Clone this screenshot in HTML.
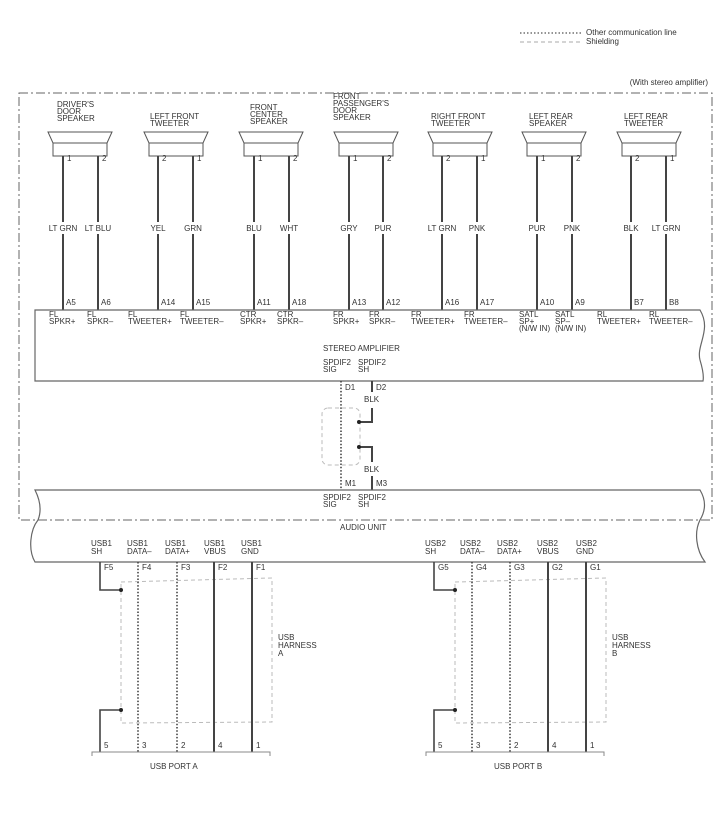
<!DOCTYPE html>
<html><head><meta charset="utf-8"><style>
html,body{margin:0;padding:0;background:#fff;}
svg{display:block;}
text{font-family:"Liberation Sans",sans-serif;font-size:8px;fill:#333;}
</style></head><body>
<svg width="726" height="822" viewBox="0 0 726 822" xmlns="http://www.w3.org/2000/svg">
<!-- legend -->
<line x1="520" y1="33" x2="582" y2="33" stroke="#555" stroke-width="1.3" stroke-dasharray="1.5,2"/>
<line x1="520" y1="42" x2="582" y2="42" stroke="#aaa" stroke-width="1" stroke-dasharray="4,3"/>
<text x="586" y="35">Other communication line</text>
<text x="586" y="44">Shielding</text>
<text x="708" y="85" text-anchor="end">(With stereo amplifier)</text>
<!-- outer dash-dot box -->
<rect x="19" y="93" width="693" height="427" fill="none" stroke="#666" stroke-width="1" stroke-dasharray="9,3,2,3"/>

<!-- speakers -->
<g id="spk" stroke="#555" stroke-width="1" fill="#fff">
</g>
<g stroke="#555" stroke-width="1" fill="#fff">
<path d="M48 132 H112 L107 143 V156 H53 V143 Z"/><line x1="53" y1="143" x2="107" y2="143"/>
<path d="M144 132 H208 L203 143 V156 H149 V143 Z"/><line x1="149" y1="143" x2="203" y2="143"/>
<path d="M239 132 H303 L298 143 V156 H244 V143 Z"/><line x1="244" y1="143" x2="298" y2="143"/>
<path d="M334 132 H398 L393 143 V156 H339 V143 Z"/><line x1="339" y1="143" x2="393" y2="143"/>
<path d="M428 132 H492 L487 143 V156 H433 V143 Z"/><line x1="433" y1="143" x2="487" y2="143"/>
<path d="M522 132 H586 L581 143 V156 H527 V143 Z"/><line x1="527" y1="143" x2="581" y2="143"/>
<path d="M617 132 H681 L676 143 V156 H622 V143 Z"/><line x1="622" y1="143" x2="676" y2="143"/>
</g>
<g text-anchor="start">
<text x="57" y="107">DRIVER'S</text><text x="57" y="114">DOOR</text><text x="57" y="121">SPEAKER</text>
<text x="150" y="119">LEFT FRONT</text><text x="150" y="126">TWEETER</text>
<text x="250" y="110">FRONT</text><text x="250" y="117">CENTER</text><text x="250" y="124">SPEAKER</text>
<text x="333" y="99">FRONT</text><text x="333" y="106">PASSENGER'S</text><text x="333" y="113">DOOR</text><text x="333" y="120">SPEAKER</text>
<text x="431" y="119">RIGHT FRONT</text><text x="431" y="126">TWEETER</text>
<text x="529" y="119">LEFT REAR</text><text x="529" y="126">SPEAKER</text>
<text x="624" y="119">LEFT REAR</text><text x="624" y="126">TWEETER</text>
</g>
<!-- speaker wires -->
<g stroke="#444" stroke-width="2">
<line x1="63" y1="156" x2="63" y2="222"/><line x1="63" y1="234" x2="63" y2="310"/>
<line x1="98" y1="156" x2="98" y2="222"/><line x1="98" y1="234" x2="98" y2="310"/>
<line x1="158" y1="156" x2="158" y2="222"/><line x1="158" y1="234" x2="158" y2="310"/>
<line x1="193" y1="156" x2="193" y2="222"/><line x1="193" y1="234" x2="193" y2="310"/>
<line x1="254" y1="156" x2="254" y2="222"/><line x1="254" y1="234" x2="254" y2="310"/>
<line x1="289" y1="156" x2="289" y2="222"/><line x1="289" y1="234" x2="289" y2="310"/>
<line x1="349" y1="156" x2="349" y2="222"/><line x1="349" y1="234" x2="349" y2="310"/>
<line x1="383" y1="156" x2="383" y2="222"/><line x1="383" y1="234" x2="383" y2="310"/>
<line x1="442" y1="156" x2="442" y2="222"/><line x1="442" y1="234" x2="442" y2="310"/>
<line x1="477" y1="156" x2="477" y2="222"/><line x1="477" y1="234" x2="477" y2="310"/>
<line x1="537" y1="156" x2="537" y2="222"/><line x1="537" y1="234" x2="537" y2="310"/>
<line x1="572" y1="156" x2="572" y2="222"/><line x1="572" y1="234" x2="572" y2="310"/>
<line x1="631" y1="156" x2="631" y2="222"/><line x1="631" y1="234" x2="631" y2="310"/>
<line x1="666" y1="156" x2="666" y2="222"/><line x1="666" y1="234" x2="666" y2="310"/>
</g>
<g>
<text x="67" y="161">1</text><text x="102" y="161">2</text>
<text x="162" y="161">2</text><text x="197" y="161">1</text>
<text x="258" y="161">1</text><text x="293" y="161">2</text>
<text x="353" y="161">1</text><text x="387" y="161">2</text>
<text x="446" y="161">2</text><text x="481" y="161">1</text>
<text x="541" y="161">1</text><text x="576" y="161">2</text>
<text x="635" y="161">2</text><text x="670" y="161">1</text>
</g>
<g text-anchor="middle">
<text x="63" y="231">LT GRN</text><text x="98" y="231">LT BLU</text>
<text x="158" y="231">YEL</text><text x="193" y="231">GRN</text>
<text x="254" y="231">BLU</text><text x="289" y="231">WHT</text>
<text x="349" y="231">GRY</text><text x="383" y="231">PUR</text>
<text x="442" y="231">LT GRN</text><text x="477" y="231">PNK</text>
<text x="537" y="231">PUR</text><text x="572" y="231">PNK</text>
<text x="631" y="231">BLK</text><text x="666" y="231">LT GRN</text>
</g>
<g>
<text x="66" y="305">A5</text><text x="101" y="305">A6</text>
<text x="161" y="305">A14</text><text x="196" y="305">A15</text>
<text x="257" y="305">A11</text><text x="292" y="305">A18</text>
<text x="352" y="305">A13</text><text x="386" y="305">A12</text>
<text x="445" y="305">A16</text><text x="480" y="305">A17</text>
<text x="540" y="305">A10</text><text x="575" y="305">A9</text>
<text x="634" y="305">B7</text><text x="669" y="305">B8</text>
</g>
<!-- amplifier box -->
<path d="M35 310 H700 C712 330 696 345 700 360 C703 370 704 376 703 381 H35 Z" fill="none" stroke="#666" stroke-width="1.2"/>
<g>
<text x="49" y="317">FL</text><text x="49" y="324">SPKR+</text>
<text x="87" y="317">FL</text><text x="87" y="324">SPKR–</text>
<text x="128" y="317">FL</text><text x="128" y="324">TWEETER+</text>
<text x="180" y="317">FL</text><text x="180" y="324">TWEETER–</text>
<text x="240" y="317">CTR</text><text x="240" y="324">SPKR+</text>
<text x="277" y="317">CTR</text><text x="277" y="324">SPKR–</text>
<text x="333" y="317">FR</text><text x="333" y="324">SPKR+</text>
<text x="369" y="317">FR</text><text x="369" y="324">SPKR–</text>
<text x="411" y="317">FR</text><text x="411" y="324">TWEETER+</text>
<text x="464" y="317">FR</text><text x="464" y="324">TWEETER–</text>
<text x="519" y="317">SATL</text><text x="519" y="324">SP+</text><text x="519" y="331">(N/W IN)</text>
<text x="555" y="317">SATL</text><text x="555" y="324">SP–</text><text x="555" y="331">(N/W IN)</text>
<text x="597" y="317">RL</text><text x="597" y="324">TWEETER+</text>
<text x="649" y="317">RL</text><text x="649" y="324">TWEETER–</text>
<text x="323" y="351">STEREO AMPLIFIER</text>
<text x="323" y="365">SPDIF2</text><text x="323" y="372">SIG</text>
<text x="358" y="365">SPDIF2</text><text x="358" y="372">SH</text>
</g>
<!-- spdif wires -->
<line x1="341" y1="381" x2="341" y2="490" stroke="#444" stroke-width="1.6" stroke-dasharray="1.5,1.8"/>
<rect x="322" y="408" width="38" height="57" rx="6" fill="none" stroke="#bbb" stroke-width="1" stroke-dasharray="4,3"/>
<polyline points="372,381 372,392" fill="none" stroke="#444" stroke-width="2"/>
<polyline points="372,408 372,422 359,422" fill="none" stroke="#444" stroke-width="2"/>
<polyline points="359,447 372,447 372,462" fill="none" stroke="#444" stroke-width="2"/>
<line x1="372" y1="476" x2="372" y2="490" stroke="#444" stroke-width="2"/>
<circle cx="359" cy="422" r="2" fill="#222"/><circle cx="359" cy="447" r="2" fill="#222"/>
<text x="345" y="390">D1</text><text x="376" y="390">D2</text>
<text x="364" y="402">BLK</text><text x="364" y="472">BLK</text>
<text x="345" y="486">M1</text><text x="376" y="486">M3</text>
<!-- audio unit -->
<path d="M35 490 H700 C706 500 706 510 700 520 C694 532 696 550 705 562 H35 C28 550 30 530 38 520 C42 510 40 500 35 490 Z" fill="none" stroke="#666" stroke-width="1.2"/>
<text x="323" y="500">SPDIF2</text><text x="323" y="507">SIG</text>
<text x="358" y="500">SPDIF2</text><text x="358" y="507">SH</text>
<text x="340" y="530">AUDIO UNIT</text>
<!-- USB A -->
<g>
<text x="91" y="546">USB1</text><text x="91" y="554">SH</text>
<text x="127" y="546">USB1</text><text x="127" y="554">DATA–</text>
<text x="165" y="546">USB1</text><text x="165" y="554">DATA+</text>
<text x="204" y="546">USB1</text><text x="204" y="554">VBUS</text>
<text x="241" y="546">USB1</text><text x="241" y="554">GND</text>
<text x="104" y="570">F5</text><text x="142" y="570">F4</text><text x="181" y="570">F3</text><text x="218" y="570">F2</text><text x="256" y="570">F1</text>
<text x="104" y="748">5</text><text x="142" y="748">3</text><text x="181" y="748">2</text><text x="218" y="748">4</text><text x="256" y="748">1</text>
<text x="278" y="640">USB</text><text x="278" y="648">HARNESS</text><text x="278" y="656">A</text>
<text x="150" y="769">USB PORT A</text>
</g>
<path d="M121 582 L272 578 V722 L121 723 Z" fill="none" stroke="#bbb" stroke-width="1" stroke-dasharray="4,3"/>
<polyline points="100,562 100,590 121,590" fill="none" stroke="#444" stroke-width="1.6"/>
<polyline points="121,710 100,710 100,752" fill="none" stroke="#444" stroke-width="1.6"/>
<circle cx="121" cy="590" r="2" fill="#222"/><circle cx="121" cy="710" r="2" fill="#222"/>
<line x1="138" y1="562" x2="138" y2="752" stroke="#444" stroke-width="1.6" stroke-dasharray="1.5,1.8"/>
<line x1="177" y1="562" x2="177" y2="752" stroke="#444" stroke-width="1.6" stroke-dasharray="1.5,1.8"/>
<line x1="214" y1="562" x2="214" y2="752" stroke="#444" stroke-width="2"/>
<line x1="252" y1="562" x2="252" y2="752" stroke="#444" stroke-width="2"/>
<polyline points="92,756 92,752 270,752 270,756" fill="none" stroke="#888" stroke-width="1"/>
<!-- USB B -->
<g>
<text x="425" y="546">USB2</text><text x="425" y="554">SH</text>
<text x="460" y="546">USB2</text><text x="460" y="554">DATA–</text>
<text x="497" y="546">USB2</text><text x="497" y="554">DATA+</text>
<text x="537" y="546">USB2</text><text x="537" y="554">VBUS</text>
<text x="576" y="546">USB2</text><text x="576" y="554">GND</text>
<text x="438" y="570">G5</text><text x="476" y="570">G4</text><text x="514" y="570">G3</text><text x="552" y="570">G2</text><text x="590" y="570">G1</text>
<text x="438" y="748">5</text><text x="476" y="748">3</text><text x="514" y="748">2</text><text x="552" y="748">4</text><text x="590" y="748">1</text>
<text x="612" y="640">USB</text><text x="612" y="648">HARNESS</text><text x="612" y="656">B</text>
<text x="494" y="769">USB PORT B</text>
</g>
<path d="M455 582 L606 578 V722 L455 723 Z" fill="none" stroke="#bbb" stroke-width="1" stroke-dasharray="4,3"/>
<polyline points="434,562 434,590 455,590" fill="none" stroke="#444" stroke-width="1.6"/>
<polyline points="455,710 434,710 434,752" fill="none" stroke="#444" stroke-width="1.6"/>
<circle cx="455" cy="590" r="2" fill="#222"/><circle cx="455" cy="710" r="2" fill="#222"/>
<line x1="472" y1="562" x2="472" y2="752" stroke="#444" stroke-width="1.6" stroke-dasharray="1.5,1.8"/>
<line x1="510" y1="562" x2="510" y2="752" stroke="#444" stroke-width="1.6" stroke-dasharray="1.5,1.8"/>
<line x1="548" y1="562" x2="548" y2="752" stroke="#444" stroke-width="2"/>
<line x1="586" y1="562" x2="586" y2="752" stroke="#444" stroke-width="2"/>
<polyline points="426,756 426,752 604,752 604,756" fill="none" stroke="#888" stroke-width="1"/>
</svg>
</body></html>
